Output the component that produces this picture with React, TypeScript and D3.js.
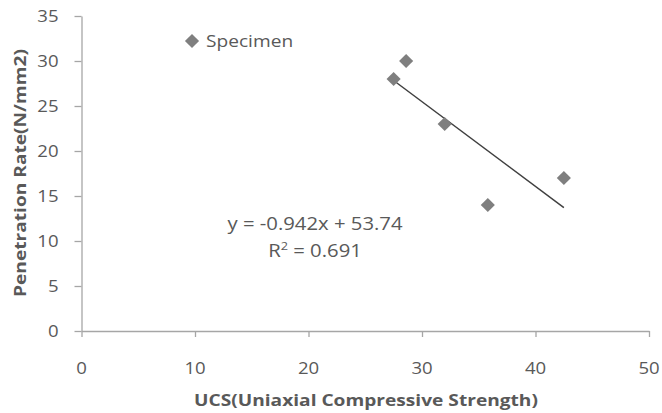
import { useEffect, useRef } from 'react';
import * as d3 from 'd3';

// UCS vs penetration rate, one series plus a linear trendline
const ucs = [27.5, 28.6, 32.0, 35.8, 42.5];
const penetration = [28, 30, 23, 14, 17];
const xTicks = [0, 10, 20, 30, 40, 50];
const yTicks = [0, 5, 10, 15, 20, 25, 30, 35];
const trendSlope = -0.942;
const trendIntercept = 53.74;
const rSquared = '0.691';
const seriesName = 'Specimen';
const xTitle = 'UCS(Uniaxial Compressive Strength)';
const yTitle = 'Penetration Rate(N/mm2)';

const width = 662;
const height = 413;
const font = '"Open Sans", "Liberation Sans", sans-serif';
const textColor = '#595959';
const axisColor = '#a6a6a6';
const markerColor = '#7f7f7f';
const stretch = 1.16;

export default function App() {
  const ref = useRef<SVGSVGElement>(null);

  useEffect(() => {
    const el = ref.current;
    if (!el) return;
    const svg = d3.select(el);
    svg.selectAll('*').remove();

    const x = d3.scaleLinear().domain([0, 50]).range([81.5, 649]);
    const y = d3.scaleLinear().domain([0, 35]).range([331, 16]);

    // text helper: the source text is a bit wider than our fonts
    const label = (
      tx: number,
      ty: number,
      text: string,
      anchor: string,
      opts: { size?: number; weight?: string; rotate?: number } = {}
    ) =>
      svg
        .append('text')
        .attr(
          'transform',
          `translate(${tx},${ty})${opts.rotate ? ` rotate(${opts.rotate})` : ''} scale(${stretch},1)`
        )
        .attr('text-anchor', anchor)
        .attr('dominant-baseline', 'central')
        .attr('font-family', font)
        .attr('font-size', opts.size ?? 16)
        .attr('font-weight', opts.weight ?? 'normal')
        .attr('fill', textColor)
        .text(text);

    // axes (lines and ticks only)
    const xAxis = svg
      .append('g')
      .attr('transform', `translate(0,${y(0)})`)
      .call(d3.axisBottom(x).tickValues(xTicks).tickSize(6).tickSizeOuter(0).tickFormat(() => ''));
    const yAxis = svg
      .append('g')
      .attr('transform', `translate(${x(0)},0)`)
      .call(d3.axisLeft(y).tickValues(yTicks).tickSize(7).tickSizeOuter(0).tickFormat(() => ''));
    for (const g of [xAxis, yAxis]) {
      g.selectAll('path, line').attr('stroke', axisColor).attr('stroke-width', 1.3);
    }

    xTicks.forEach((t) => label(x(t), 368, String(t), 'middle'));
    yTicks.forEach((t) => label(x(0) - 23, y(t), String(t), 'end'));

    label(366, 400, xTitle, 'middle', { size: 16.5, weight: 'bold' });
    label(20, 173, yTitle, 'middle', { size: 16.5, weight: 'bold', rotate: -90 });

    // trendline across the data range
    const [xMin, xMax] = d3.extent(ucs) as [number, number];
    svg
      .append('line')
      .attr('x1', x(xMin))
      .attr('y1', y(trendSlope * xMin + trendIntercept))
      .attr('x2', x(xMax))
      .attr('y2', y(trendSlope * xMax + trendIntercept))
      .attr('stroke', '#404040')
      .attr('stroke-width', 1.5);

    const diamond = d3.symbol(d3.symbolSquare, 100)();
    svg
      .append('g')
      .selectAll('path')
      .data(ucs.map((u, i) => [u, penetration[i]]))
      .join('path')
      .attr('d', diamond)
      .attr('transform', (d) => `translate(${x(d[0])},${y(d[1])}) rotate(45)`)
      .attr('fill', markerColor);

    // legend
    svg
      .append('path')
      .attr('d', diamond)
      .attr('transform', 'translate(192,41) rotate(45)')
      .attr('fill', markerColor);
    label(206, 41, seriesName, 'start', { size: 16.5 });

    // equation
    label(315, 224, `y = ${trendSlope}x + ${trendIntercept}`, 'middle', { size: 17.5 });
    const r = label(315, 251, '', 'middle', { size: 17.5 });
    r.append('tspan').text('R');
    r.append('tspan').attr('font-size', 11).attr('dy', -6).text('2');
    r.append('tspan').attr('dy', 6).text(` = ${rSquared}`);
  }, []);

  return (
    <svg
      ref={ref}
      width={width}
      height={height}
      style={{ position: 'absolute', left: 0, top: 0, background: '#fff' }}
    />
  );
}
